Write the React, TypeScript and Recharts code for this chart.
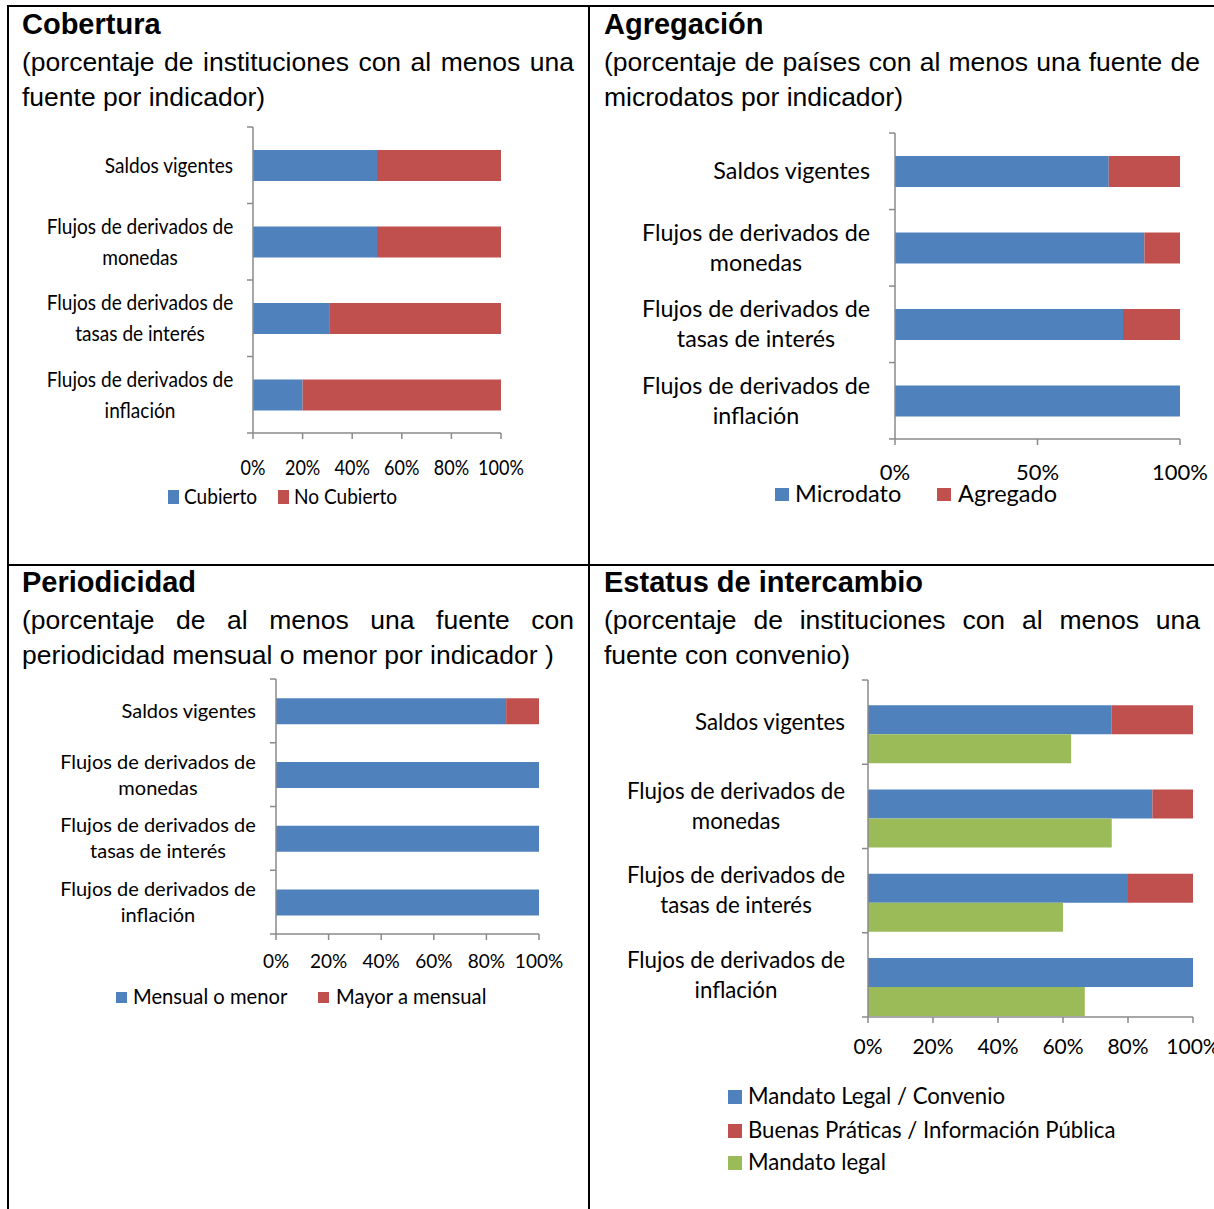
import { BarChart, Bar, XAxis, YAxis, Rectangle } from 'recharts';

// indicator categories (line breaks mark where the label wraps)
const categories = [
  'Saldos vigentes',
  'Flujos de derivados de\nmonedas',
  'Flujos de derivados de\ntasas de interés',
  'Flujos de derivados de\ninflación',
];

// Cobertura
const cubierto = [50, 50, 31, 20];
const noCubierto = [50, 50, 69, 80];
// Agregación
const microdato = [75, 87.5, 80, 100];
const agregado = [25, 12.5, 20, 0];
// Periodicidad
const mensualOMenor = [87.5, 100, 100, 100];
const mayorAMensual = [12.5, 0, 0, 0];
// Estatus de intercambio
const convenio = [75, 87.5, 80, 100];
const infoPublica = [25, 12.5, 20, 0];
const mandatoLegal = [62.5, 75, 60, 66.7];

const ticks20 = [0, 20, 40, 60, 80, 100];
const ticks50 = [0, 50, 100];

const BLUE = '#4F81BD';
const RED = '#C0504D';
const GREEN = '#9BBB59';
const AXIS = '#8A8A8A';
const CHART_FONT = 'Lato, "Open Sans", sans-serif';
const TITLE_FONT = '"Liberation Sans", Arial, sans-serif';

const coberturaRows = categories.map((name, i) => ({ name, a: cubierto[i], b: noCubierto[i] }));
const agregacionRows = categories.map((name, i) => ({ name, a: microdato[i], b: agregado[i] }));
const periodicidadRows = categories.map((name, i) => ({ name, a: mensualOMenor[i], b: mayorAMensual[i] }));
const estatusRows = categories.map((name, i) => ({
  name,
  a: convenio[i],
  b: infoPublica[i],
  c: mandatoLegal[i],
}));

type PanelCfg = {
  left: number;
  top: number;
  width: number;
  height: number;
  margin: { top: number; right: number; bottom: number; left: number };
  yWidth: number;
  fontSize: number;
  tickFont: number;
  lineGap: number;
  labelGap: number;
  centerOffset: number;
  squeeze: number;
  tickSqueeze: number;
  band: number;
  categoryGap: string;
  ticks: number[];
  tickMargin: number;
};

// category label plus the boundary tick marks drawn between bands
const CategoryTick = (props: any) => {
  const { x, y, payload, cfg } = props;
  const axisX = x + cfg.labelGap;
  const lines = String(payload.value).split('\n');
  const isLast = payload.value === categories[categories.length - 1];
  const half = cfg.band / 2;
  const tx = lines.length > 1 ? axisX - cfg.centerOffset : axisX - cfg.labelGap;
  const anchor = lines.length > 1 ? 'middle' : 'end';
  const y0 = y - ((lines.length - 1) * cfg.lineGap) / 2;
  return (
    <g>
      <line x1={axisX - 6} x2={axisX} y1={y - half} y2={y - half} stroke={AXIS} strokeWidth={1.5} />
      {isLast && (
        <line x1={axisX - 6} x2={axisX} y1={y + half} y2={y + half} stroke={AXIS} strokeWidth={1.5} />
      )}
      <g transform={`translate(${tx},${y0}) scale(${cfg.squeeze},1)`}>
        {lines.map((ln, i) => (
          <text
            key={i}
            x={0}
            y={i * cfg.lineGap}
            dy="0.35em"
            textAnchor={anchor}
            fontFamily={CHART_FONT}
            fontSize={cfg.fontSize}
            fill="#000"
          >
            {ln}
          </text>
        ))}
      </g>
    </g>
  );
};

const ValueTick = (props: any) => {
  const { x, y, payload, cfg } = props;
  return (
    <g transform={`translate(${x},${y}) scale(${cfg.tickSqueeze},1)`}>
      <text x={0} y={0} dy="0.71em" textAnchor="middle" fontFamily={CHART_FONT} fontSize={cfg.tickFont} fill="#000">
        {`${payload.value}%`}
      </text>
    </g>
  );
};

function Panel({ cfg, data, children }: { cfg: PanelCfg; data: any[]; children: any }) {
  return (
    <div style={{ position: 'absolute', left: cfg.left, top: cfg.top }}>
      <BarChart
        width={cfg.width}
        height={cfg.height}
        data={data}
        layout="vertical"
        margin={cfg.margin}
        barGap={0}
        barCategoryGap={cfg.categoryGap}
        style={{ overflow: 'visible' }}
      >
        <XAxis
          type="number"
          domain={[0, 100]}
          ticks={cfg.ticks}
          interval={0}
          height={40}
          tickSize={6}
          tickMargin={cfg.tickMargin}
          axisLine={{ stroke: AXIS, strokeWidth: 1.5 }}
          tickLine={{ stroke: AXIS, strokeWidth: 1.5 }}
          tick={(p: any) => <ValueTick {...p} cfg={cfg} />}
        />
        <YAxis
          type="category"
          dataKey="name"
          width={cfg.yWidth}
          interval={0}
          tickSize={0}
          tickMargin={cfg.labelGap}
          axisLine={{ stroke: AXIS, strokeWidth: 1.5 }}
          tickLine={false}
          tick={(p: any) => <CategoryTick {...p} cfg={cfg} />}
        />
        {children}
      </BarChart>
    </div>
  );
}

function LegendRow({
  items,
  y,
  fontSize,
  box,
  squeeze = 1,
}: {
  items: { label: string; color: string; x: number; textX: number }[];
  y: number;
  fontSize: number;
  box: [number, number];
  squeeze?: number;
}) {
  return (
    <>
      {items.map((it) => (
        <div key={it.label}>
          <div
            style={{
              position: 'absolute',
              left: it.x,
              top: y - box[1] / 2,
              width: box[0],
              height: box[1],
              background: it.color,
            }}
          />
          <div
            style={{
              position: 'absolute',
              left: it.textX,
              top: y - fontSize * 0.62,
              fontFamily: CHART_FONT,
              fontSize,
              lineHeight: `${fontSize * 1.2}px`,
              whiteSpace: 'nowrap',
              transform: `scaleX(${squeeze})`,
              transformOrigin: 'left center',
            }}
          >
            {it.label}
          </div>
        </div>
      ))}
    </>
  );
}

function Heading({ x, top, width, title, line1, line2 }: any) {
  return (
    <div style={{ position: 'absolute', left: x, top, width, fontFamily: TITLE_FONT, color: '#000' }}>
      <div style={{ fontSize: 29, fontWeight: 700, lineHeight: '32.4px' }}>{title}</div>
      <div
        style={{
          marginTop: 5,
          fontSize: 26.5,
          lineHeight: '35px',
          textAlign: 'justify',
          textAlignLast: 'justify',
        }}
      >
        {line1}
      </div>
      <div style={{ fontSize: 26.5, lineHeight: '35px' }}>{line2}</div>
    </div>
  );
}

const coberturaCfg: PanelCfg = {
  left: 10,
  top: 110,
  width: 570,
  height: 420,
  margin: { top: 17, right: 79, bottom: 57, left: 13 },
  yWidth: 230,
  fontSize: 22,
  tickFont: 22,
  lineGap: 31,
  labelGap: 20,
  centerOffset: 113,
  squeeze: 0.867,
  tickSqueeze: 0.82,
  band: 76.5,
  categoryGap: '30%',
  ticks: ticks20,
  tickMargin: 20,
};

const agregacionCfg: PanelCfg = {
  left: 600,
  top: 115,
  width: 610,
  height: 420,
  margin: { top: 18, right: 30, bottom: 56, left: 45 },
  yWidth: 250,
  fontSize: 23.3,
  tickFont: 22,
  lineGap: 30,
  labelGap: 25,
  centerOffset: 139,
  squeeze: 1,
  tickSqueeze: 1,
  band: 76.4,
  categoryGap: '30%',
  ticks: ticks50,
  tickMargin: 19,
};

const periodicidadCfg: PanelCfg = {
  left: 10,
  top: 665,
  width: 570,
  height: 330,
  margin: { top: 14, right: 41, bottom: 21, left: 36 },
  yWidth: 230,
  fontSize: 20,
  tickFont: 19,
  lineGap: 26,
  labelGap: 20,
  centerOffset: 118,
  squeeze: 1,
  tickSqueeze: 1,
  band: 63.7,
  categoryGap: '30%',
  ticks: ticks20,
  tickMargin: 14,
};

const estatusCfg: PanelCfg = {
  left: 600,
  top: 665,
  width: 614,
  height: 410,
  margin: { top: 15, right: 21, bottom: 18, left: 38 },
  yWidth: 230,
  fontSize: 22.3,
  tickFont: 21,
  lineGap: 30,
  labelGap: 23,
  centerOffset: 132,
  squeeze: 1,
  tickSqueeze: 1,
  band: 84.2,
  categoryGap: '15%',
  ticks: ticks20,
  tickMargin: 16,
};

// the clustered bars sit in the lower part of each band
const lowered = (p: any) => <Rectangle {...p} y={p.y + 12.5} />;

export default function App() {
  return (
    <div
      style={{
        position: 'absolute',
        left: 0,
        top: 0,
        width: 1214,
        height: 1209,
        overflow: 'hidden',
        background: '#fff',
      }}
    >
      {/* table rules */}
      <div style={{ position: 'absolute', left: 7, top: 5, width: 1220, height: 2, background: '#000' }} />
      <div style={{ position: 'absolute', left: 7, top: 5, width: 2, height: 1220, background: '#000' }} />
      <div style={{ position: 'absolute', left: 588, top: 5, width: 2, height: 1220, background: '#000' }} />
      <div style={{ position: 'absolute', left: 7, top: 564, width: 1220, height: 2, background: '#000' }} />

      <Heading
        x={22}
        top={8}
        width={552}
        title="Cobertura"
        line1="(porcentaje de instituciones con al menos una"
        line2="fuente por indicador)"
      />
      <Heading
        x={604}
        top={8}
        width={596}
        title="Agregación"
        line1="(porcentaje de países con al menos una fuente de"
        line2="microdatos por indicador)"
      />
      <Heading
        x={22}
        top={566}
        width={552}
        title="Periodicidad"
        line1="(porcentaje de al menos una fuente con"
        line2="periodicidad mensual o menor por indicador )"
      />
      <Heading
        x={604}
        top={566}
        width={596}
        title="Estatus de intercambio"
        line1="(porcentaje de instituciones con al menos una"
        line2="fuente con convenio)"
      />

      <Panel cfg={coberturaCfg} data={coberturaRows}>
        <Bar dataKey="a" stackId="s" fill={BLUE} isAnimationActive={false} />
        <Bar dataKey="b" stackId="s" fill={RED} isAnimationActive={false} />
      </Panel>
      <LegendRow
        y={497}
        fontSize={22}
        box={[11, 14]}
        squeeze={0.867}
        items={[
          { label: 'Cubierto', color: BLUE, x: 168, textX: 184 },
          { label: 'No Cubierto', color: RED, x: 278, textX: 294 },
        ]}
      />

      <Panel cfg={agregacionCfg} data={agregacionRows}>
        <Bar dataKey="a" stackId="s" fill={BLUE} isAnimationActive={false} />
        <Bar dataKey="b" stackId="s" fill={RED} isAnimationActive={false} />
      </Panel>
      <LegendRow
        y={494}
        fontSize={23.5}
        box={[14, 13]}
        items={[
          { label: 'Microdato', color: BLUE, x: 775, textX: 795 },
          { label: 'Agregado', color: RED, x: 937, textX: 958 },
        ]}
      />

      <Panel cfg={periodicidadCfg} data={periodicidadRows}>
        <Bar dataKey="a" stackId="s" fill={BLUE} isAnimationActive={false} />
        <Bar dataKey="b" stackId="s" fill={RED} isAnimationActive={false} />
      </Panel>
      <LegendRow
        y={997}
        fontSize={20.2}
        box={[11, 11]}
        items={[
          { label: 'Mensual o menor', color: BLUE, x: 116, textX: 133 },
          { label: 'Mayor a mensual', color: RED, x: 318, textX: 336 },
        ]}
      />

      <Panel cfg={estatusCfg} data={estatusRows}>
        <Bar dataKey="a" stackId="s" fill={BLUE} isAnimationActive={false} shape={lowered} />
        <Bar dataKey="b" stackId="s" fill={RED} isAnimationActive={false} shape={lowered} />
        <Bar dataKey="c" fill={GREEN} isAnimationActive={false} shape={lowered} />
      </Panel>
      <LegendRow y={1097} fontSize={22.2} box={[14, 14]} items={[{ label: 'Mandato Legal / Convenio', color: BLUE, x: 728, textX: 748 }]} />
      <LegendRow y={1131} fontSize={22.2} box={[14, 14]} items={[{ label: 'Buenas Práticas / Información Pública', color: RED, x: 728, textX: 748 }]} />
      <LegendRow y={1163} fontSize={22.2} box={[14, 14]} items={[{ label: 'Mandato legal', color: GREEN, x: 728, textX: 748 }]} />
    </div>
  );
}
